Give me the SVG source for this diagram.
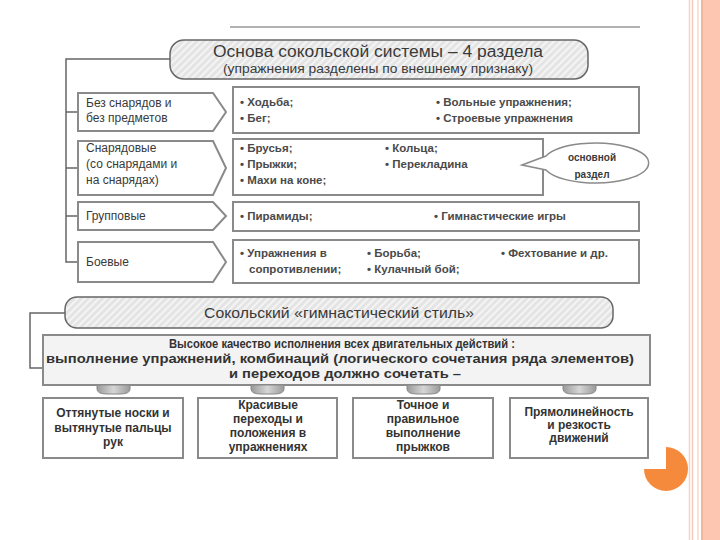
<svg xmlns="http://www.w3.org/2000/svg" width="720" height="540" viewBox="0 0 720 540">
<defs>
<pattern id="hatch" width="5" height="5" patternUnits="userSpaceOnUse" patternTransform="rotate(45)">
<rect width="5" height="5" fill="#e4e4e4"/>
<rect width="2" height="5" fill="#f4f4f4"/>
</pattern>
<linearGradient id="tab" x1="0" y1="0" x2="1" y2="0">
<stop offset="0" stop-color="#9a9a9a"/><stop offset="0.5" stop-color="#d6d6d6"/><stop offset="1" stop-color="#9a9a9a"/>
</linearGradient>
</defs>
<style>
.t{font-family:"Liberation Sans",Arial,sans-serif;fill:#3a3a3a}
.lbl{font-size:12px}
.b{font-size:11.5px;font-weight:bold;fill:#4a4a4a}
.box{fill:#fff;stroke:#8a8a8a;stroke-width:2}
.pill{fill:url(#hatch);stroke:#666;stroke-width:1.5}
.ln{fill:none;stroke:#666;stroke-width:1.5}
.bb{font-size:12px;font-weight:bold;fill:#333}
.q{font-size:12.5px;font-weight:bold;fill:#333}
</style>
<rect width="720" height="540" fill="#fff"/>
<!-- side decoration -->
<rect x="703" y="0" width="17" height="540" fill="#fcc6b0"/>
<line x1="689.5" y1="0" x2="689.5" y2="540" stroke="#f6d2c2" stroke-width="1.5"/>
<line x1="692.5" y1="0" x2="692.5" y2="540" stroke="#f4cbb8" stroke-width="1.5"/>
<line x1="698" y1="0" x2="698" y2="540" stroke="#f8d8c8" stroke-width="1.5"/>
<line x1="702" y1="0" x2="702" y2="540" stroke="#ee9c7c" stroke-width="1.5"/>
<path d="M666,469 L666,447 A22,22 0 1 1 644,469 Z" fill="#f58a3c"/>
<line x1="230" y1="27" x2="640" y2="27" stroke="#999" stroke-width="1.5"/>

<g id="connectors">
<path class="ln" d="M170,59 H66 V262 H78"/>
<path class="ln" d="M66,112 H78 M66,168 H78 M66,216 H78"/>
<path class="ln" d="M65,313 H30 V368 H43"/>
</g>

<g id="title">
<rect class="pill" x="170" y="40" width="418" height="39" rx="14"/>
<text class="t" x="378" y="57" text-anchor="middle" font-size="16" textLength="330" lengthAdjust="spacingAndGlyphs">Основа сокольской системы – 4 раздела</text>
<text class="t" x="378" y="73" text-anchor="middle" font-size="12.5" textLength="310" lengthAdjust="spacingAndGlyphs">(упражнения разделены по внешнему признаку)</text>
</g>

<g id="cat1">
<polygon class="box" points="78,93 213,93 226,112 213,131 78,131"/>
<text class="t lbl" x="86" y="107">Без снарядов и</text>
<text class="t lbl" x="86" y="122">без предметов</text>
</g>
<g id="list1">
<rect class="box" x="233" y="87" width="406" height="46"/>
<text class="t b" x="240" y="106">• Ходьба;</text>
<text class="t b" x="240" y="122">• Бег;</text>
<text class="t b" x="436" y="106">• Вольные упражнения;</text>
<text class="t b" x="436" y="122">• Строевые упражнения</text>
</g>

<g id="cat2">
<polygon class="box" points="78,141 213,141 226,168 213,195 78,195"/>
<text class="t lbl" x="86" y="152">Снарядовые</text>
<text class="t lbl" x="86" y="168">(со снарядами и</text>
<text class="t lbl" x="86" y="184">на снарядах)</text>
</g>
<g id="list2">
<rect class="box" x="233" y="139" width="310" height="56"/>
<text class="t b" x="240" y="152">• Брусья;</text>
<text class="t b" x="240" y="168">• Прыжки;</text>
<text class="t b" x="240" y="184">• Махи на коне;</text>
<text class="t b" x="385" y="152">• Кольца;</text>
<text class="t b" x="385" y="168">• Перекладина</text>
</g>
<g id="callout">
<path d="M522,165 L546,156 A53,20 0 1 1 546,170 Z" fill="#fff" stroke="#8a8a8a" stroke-width="1.5"/>
<text class="t" x="592" y="161" text-anchor="middle" font-size="10" font-weight="bold" fill="#555">основной</text>
<text class="t" x="592" y="178" text-anchor="middle" font-size="10" font-weight="bold" fill="#555">раздел</text>
</g>

<g id="cat3">
<polygon class="box" points="78,202 213,202 226,216 213,230 78,230"/>
<text class="t lbl" x="86" y="220">Групповые</text>
</g>
<g id="list3">
<rect class="box" x="233" y="202" width="406" height="29"/>
<text class="t b" x="240" y="220">• Пирамиды;</text>
<text class="t b" x="434" y="220">• Гимнастические игры</text>
</g>

<g id="cat4">
<polygon class="box" points="78,242 213,242 226,262 213,282 78,282"/>
<text class="t lbl" x="86" y="266">Боевые</text>
</g>
<g id="list4">
<rect class="box" x="233" y="240" width="406" height="43"/>
<text class="t b" x="240" y="257">• Упражнения в</text>
<text class="t b" x="249" y="273">сопротивлении;</text>
<text class="t b" x="367" y="257">• Борьба;</text>
<text class="t b" x="367" y="273">• Кулачный бой;</text>
<text class="t b" x="501" y="257">• Фехтование и др.</text>
</g>

<g id="style-title">
<rect class="pill" x="65" y="297" width="548" height="31" rx="12"/>
<text class="t" x="339" y="318" text-anchor="middle" font-size="15" textLength="270" lengthAdjust="spacingAndGlyphs">Сокольский «гимнастический стиль»</text>
</g>

<g id="quality">
<rect x="43" y="335" width="607" height="50" fill="#f3f3f3" stroke="#8a8a8a" stroke-width="2"/>
<text class="t q" x="342" y="348" text-anchor="middle" textLength="346" lengthAdjust="spacingAndGlyphs">Высокое качество исполнения всех двигательных действий :</text>
<text class="t q" x="340" y="363" text-anchor="middle" textLength="588" lengthAdjust="spacingAndGlyphs">выполнение упражнений, комбинаций (логического сочетания ряда элементов)</text>
<text class="t q" x="345" y="378" text-anchor="middle" textLength="232" lengthAdjust="spacingAndGlyphs">и переходов  должно сочетать –</text>
</g>

<g id="tabs">
<path d="M97,385 H130 V389 Q130,394 120,394 H107 Q97,394 97,389 Z" fill="url(#tab)" stroke="#888" stroke-width="1"/>
<path d="M251,385 H284 V389 Q284,394 274,394 H261 Q251,394 251,389 Z" fill="url(#tab)" stroke="#888" stroke-width="1"/>
<path d="M407,385 H440 V389 Q440,394 430,394 H417 Q407,394 407,389 Z" fill="url(#tab)" stroke="#888" stroke-width="1"/>
<path d="M563,385 H596 V389 Q596,394 586,394 H573 Q563,394 563,389 Z" fill="url(#tab)" stroke="#888" stroke-width="1"/>
</g>

<g id="feat1">
<rect class="box" x="43" y="398" width="140" height="60"/>
<text class="t bb" x="113" y="417" text-anchor="middle">Оттянутые носки и</text>
<text class="t bb" x="113" y="432" text-anchor="middle">вытянутые пальцы</text>
<text class="t bb" x="113" y="446" text-anchor="middle">рук</text>
</g>
<g id="feat2">
<rect class="box" x="198" y="398" width="139" height="60"/>
<text class="t bb" x="268" y="409" text-anchor="middle">Красивые</text>
<text class="t bb" x="268" y="423" text-anchor="middle">переходы и</text>
<text class="t bb" x="268" y="437" text-anchor="middle">положения в</text>
<text class="t bb" x="268" y="451" text-anchor="middle">упражнениях</text>
</g>
<g id="feat3">
<rect class="box" x="353" y="398" width="140" height="60"/>
<text class="t bb" x="423" y="409" text-anchor="middle">Точное и</text>
<text class="t bb" x="423" y="423" text-anchor="middle">правильное</text>
<text class="t bb" x="423" y="437" text-anchor="middle">выполнение</text>
<text class="t bb" x="423" y="451" text-anchor="middle">прыжков</text>
</g>
<g id="feat4">
<rect class="box" x="510" y="398" width="138" height="60"/>
<text class="t bb" x="579" y="416" text-anchor="middle">Прямолинейность</text>
<text class="t bb" x="579" y="429" text-anchor="middle">и резкость</text>
<text class="t bb" x="579" y="442" text-anchor="middle">движений</text>
</g>
</svg>
